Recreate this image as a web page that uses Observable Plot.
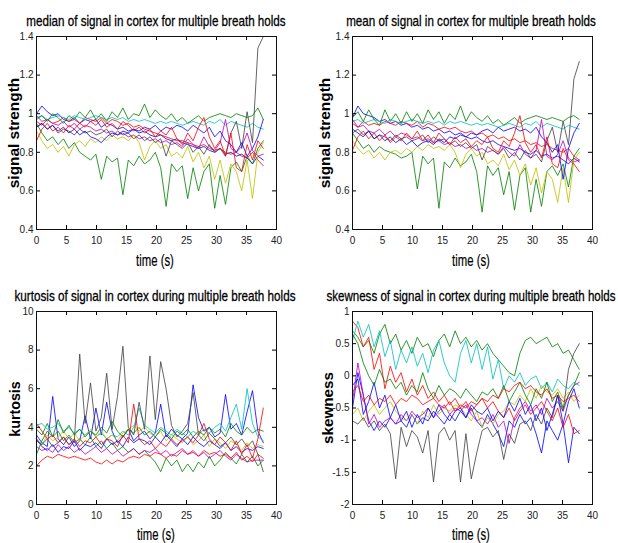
<!DOCTYPE html>
<html><head><meta charset="utf-8">
<script src="https://cdn.jsdelivr.net/npm/d3@7"></script>
<script src="https://cdn.jsdelivr.net/npm/@observablehq/plot@0.6"></script>
<style>
body{margin:0;background:#fff;}
#wrap{position:relative;width:618px;height:543px;overflow:hidden;font-family:"Liberation Sans",Arial,sans-serif;}
.panel{position:absolute;}
.title{position:absolute;font-size:15px;white-space:nowrap;color:#000;-webkit-text-stroke:0.3px #000;}
.xlab{position:absolute;font-size:17px;white-space:nowrap;color:#000;-webkit-text-stroke:0.2px #000;}
.ylab{position:absolute;font-weight:bold;font-size:14px;white-space:nowrap;color:#000;}
</style>
</head><body>
<div id="wrap"></div>
<script>
// ---------------- data ----------------
const time = [0,0.9,1.8,2.7,3.6,4.5,5.4,6.3,7.2,8.1,9,9.9,10.8,11.7,12.6,13.5,14.4,15.3,16.2,17.1,18,18.9,19.8,20.7,21.6,22.5,23.4,24.3,25.2,26.1,27,27.9,28.8,29.7,30.6,31.5,32.4,33.3,34.2,35.1,36,36.9,37.8];

const xTicks = [0,5,10,15,20,25,30,35,40];
const signalTicks = [0.4,0.6,0.8,1,1.2,1.4];
const kurtTicks = [0,2,4,6,8,10];
const skewTicks = [-2,-1.5,-1,-0.5,0,0.5,1];

const seriesNames = ["blue 1","green 1","red 1","cyan","magenta","yellow","black","blue 2","green 2","red 2"];

// median of signal
const medBlue1 = [1.00,1.04,1.01,0.99,1.00,0.97,0.96,0.98,0.95,0.97, 0.96,0.97,0.93,0.95,0.94,0.92,0.93,0.91,0.92,0.90, 0.91,0.89,0.88,0.89,0.87,0.86,0.87,0.85,0.84,0.83, 0.82,0.83,0.81,0.80,0.82,0.79,0.80,0.78,0.79,0.77, 0.74,0.78,0.76];
const medGreen1 = [0.95,0.90,0.86,0.88,0.84,0.87,0.82,0.85,0.80,0.78, 0.76,0.79,0.66,0.78,0.75,0.77,0.58,0.76,0.73,0.78, 0.74,0.76,0.80,0.72,0.52,0.74,0.70,0.73,0.56,0.72, 0.60,0.70,0.74,0.51,0.68,0.53,0.72,0.75,0.70,0.78, 0.74,0.82,0.86];
const medRed1 = [0.96,0.94,0.97,0.95,0.96,0.98,0.96,0.97,0.95,0.98, 0.97,0.96,0.98,0.95,0.97,0.96,0.94,0.95,0.93,0.94, 0.92,0.91,0.90,0.89,0.88,0.87,0.86,0.86,0.85,0.84, 0.83,0.84,0.82,0.81,0.82,0.80,0.79,0.80,0.78,0.77, 0.80,0.76,0.73];
const medCyan = [0.98,0.99,0.97,0.98,0.99,0.98,0.97,0.99,0.98,0.97, 0.98,0.99,0.98,0.97,0.98,0.97,0.98,0.96,0.97,0.96, 0.97,0.96,0.95,0.96,0.95,0.96,0.95,0.94,0.95,0.96, 0.95,0.94,0.96,0.95,0.97,0.94,0.96,0.95,0.94,0.93, 0.95,0.93,0.92];
const medMagenta = [0.99,0.96,0.97,0.95,0.94,0.96,0.93,0.95,0.92,0.94, 0.93,0.91,0.92,0.90,0.91,0.89,0.90,0.88,0.89,0.87, 0.88,0.86,0.87,0.85,0.86,0.84,0.85,0.83,0.87,0.84, 0.82,0.88,0.83,0.81,0.85,0.97,0.82,0.80,0.83,0.90, 0.81,0.78,0.79];
const medYellow = [0.91,0.86,0.82,0.84,0.80,0.83,0.78,0.84,0.86,0.83, 0.87,0.85,0.88,0.86,0.89,0.87,0.88,0.86,0.89,0.85, 0.76,0.83,0.86,0.82,0.84,0.78,0.80,0.77,0.83,0.75, 0.80,0.72,0.78,0.66,0.76,0.64,0.74,0.70,0.60,0.76, 0.56,0.80,0.85];
const medBlack = [0.93,0.95,0.92,0.94,0.90,0.92,0.91,0.89,0.92,0.90, 0.91,0.89,0.90,0.92,0.88,0.91,0.89,0.90,0.87,0.89, 0.86,0.88,0.85,0.87,0.78,0.86,0.84,0.82,0.85,0.80, 0.83,0.79,0.84,0.80,0.82,0.78,0.90,0.96,0.82,1.01, 0.85,1.34,1.40];
const medBlue2 = [0.93,0.95,0.92,0.94,0.91,0.93,0.90,0.92,0.89,0.91, 0.88,0.87,0.85,0.88,0.90,0.89,0.91,0.90,0.92,0.91, 0.93,0.92,0.94,0.91,0.93,0.92,0.94,0.93,0.91,0.94, 0.92,0.90,0.93,0.88,0.91,0.86,0.84,0.80,0.85,0.78, 0.82,0.88,0.97];
const medGreen2 = [0.97,0.99,0.96,1.00,0.98,0.95,0.99,0.97,1.01,0.98, 1.02,0.97,1.00,0.96,1.01,0.98,1.03,0.97,1.00,0.99, 1.05,0.98,1.02,0.99,0.97,1.00,0.96,0.98,0.95,0.97, 0.99,0.96,0.98,0.99,1.00,0.99,0.98,1.00,0.99,0.98, 0.99,1.03,0.97];
const medRed2 = [0.86,0.92,0.95,0.91,0.93,0.90,0.94,0.92,0.95,0.93, 0.96,0.94,0.97,0.93,0.95,0.92,0.96,0.94,0.91,0.93, 0.90,0.92,0.88,0.91,0.89,0.93,0.87,0.84,0.90,0.86, 0.93,0.98,0.88,0.82,0.86,0.78,0.90,0.72,0.70,0.84, 0.76,0.86,0.82];

// mean of signal
const meanBlue1 = [0.98,1.04,1.00,0.99,0.98,0.96,0.97,0.95,0.96,0.94, 0.95,0.93,0.94,0.92,0.93,0.91,0.92,0.90,0.91,0.89, 0.90,0.88,0.87,0.88,0.86,0.85,0.86,0.84,0.83,0.82, 0.81,0.82,0.80,0.79,0.81,0.78,0.79,0.77,0.78,0.76, 0.74,0.77,0.75];
const meanGreen1 = [0.90,0.86,0.82,0.84,0.80,0.83,0.81,0.80,0.79,0.77, 0.78,0.80,0.61,0.78,0.74,0.77,0.51,0.75,0.72,0.77, 0.73,0.75,0.79,0.70,0.49,0.73,0.68,0.72,0.58,0.70, 0.50,0.68,0.72,0.49,0.66,0.52,0.70,0.73,0.68,0.74, 0.62,0.78,0.82];
const meanRed1 = [0.95,0.93,0.96,0.94,0.95,0.94,0.96,0.95,0.94,0.96, 0.95,0.94,0.96,0.93,0.95,0.94,0.92,0.93,0.92,0.93, 0.91,0.90,0.91,0.89,0.90,0.88,0.89,0.87,0.88,0.86, 0.87,0.85,0.86,0.84,0.85,0.83,0.84,0.82,0.81,0.80, 0.82,0.78,0.76];
const meanCyan = [0.96,0.97,0.95,0.96,0.97,0.96,0.95,0.97,0.96,0.95, 0.96,0.97,0.96,0.95,0.96,0.95,0.96,0.94,0.96,0.95, 0.96,0.95,0.94,0.95,0.94,0.95,0.94,0.93,0.94,0.95, 0.94,0.93,0.95,0.94,0.96,0.93,0.95,0.94,0.93,0.92, 0.94,0.93,0.92];
const meanMagenta = [0.97,0.93,0.94,0.91,0.90,0.92,0.89,0.91,0.88,0.90, 0.89,0.87,0.88,0.86,0.87,0.85,0.86,0.84,0.85,0.83, 0.84,0.82,0.83,0.81,0.82,0.80,0.81,0.79,0.83,0.80, 0.78,0.84,0.79,0.77,0.81,0.97,0.78,0.76,0.79,0.86, 0.77,0.75,0.76];
const meanYellow = [0.86,0.82,0.79,0.81,0.77,0.80,0.76,0.80,0.81,0.79, 0.82,0.80,0.83,0.81,0.84,0.82,0.83,0.81,0.84,0.80, 0.72,0.79,0.82,0.78,0.80,0.74,0.76,0.73,0.79,0.71, 0.76,0.68,0.74,0.63,0.72,0.59,0.70,0.66,0.54,0.72, 0.54,0.76,0.80];
const meanBlack = [0.90,0.92,0.89,0.91,0.87,0.89,0.88,0.86,0.89,0.87, 0.88,0.86,0.87,0.89,0.85,0.88,0.86,0.87,0.84,0.86, 0.83,0.85,0.82,0.84,0.76,0.83,0.81,0.79,0.82,0.77, 0.80,0.76,0.81,0.77,0.79,0.75,0.86,0.93,0.80,0.96, 0.84,1.18,1.27];
const meanBlue2 = [0.92,0.90,0.88,0.91,0.87,0.89,0.86,0.88,0.85,0.87, 0.84,0.86,0.83,0.85,0.86,0.84,0.87,0.85,0.88,0.87, 0.89,0.88,0.90,0.89,0.91,0.92,0.90,0.93,0.91,0.92, 0.93,0.91,0.92,0.90,0.93,0.88,0.85,0.80,0.84,0.66, 0.82,0.90,0.95];
const meanGreen2 = [0.98,1.01,0.96,1.02,0.97,0.94,1.02,0.96,1.00,0.95, 1.01,0.96,1.00,0.95,1.02,0.97,1.01,0.95,1.00,0.97, 1.04,0.96,1.01,0.98,0.96,0.99,0.95,0.97,0.94,0.96, 0.98,0.95,0.97,0.98,0.99,0.98,0.97,0.98,0.97,0.96, 0.98,0.99,0.97];
const meanRed2 = [0.81,0.88,0.91,0.87,0.90,0.86,0.89,0.85,0.88,0.86, 0.90,0.87,0.91,0.86,0.89,0.85,0.90,0.87,0.84,0.88, 0.85,0.87,0.83,0.86,0.84,0.88,0.82,0.80,0.86,0.83, 0.90,0.99,0.85,0.80,0.84,0.77,0.88,0.74,0.72,0.82, 0.76,0.74,0.70];

// kurtosis
const kurtBlue1 = [3.6,3.2,3.0,5.6,3.4,3.1,3.5,3.0,3.3,4.6, 3.4,5.0,3.6,5.3,3.8,3.2,3.5,3.9,3.3,3.6, 3.8,3.4,3.7,5.2,3.5,3.9,3.6,3.4,3.7,6.2, 4.5,3.8,4.0,3.5,3.7,5.7,3.9,4.2,3.6,4.8, 5.9,3.8,3.2];
const kurtGreen1 = [3.9,3.6,4.2,3.5,3.8,3.3,3.6,3.2,3.4,3.1, 3.5,3.0,3.3,2.9,3.2,2.8,3.0,2.7,2.9,2.6, 2.8,2.5,2.2,1.7,2.4,2.0,2.3,1.7,2.1,1.7, 2.2,1.9,2.5,2.0,2.3,2.7,2.4,2.1,2.6,2.2, 2.5,2.0,2.3];
const kurtRed1 = [2.0,2.3,2.5,2.4,2.6,2.5,2.4,2.5,2.4,2.3, 2.4,2.2,2.1,2.3,2.1,2.3,2.2,2.4,2.5,2.4, 2.6,2.5,2.7,2.6,2.4,2.6,2.5,2.8,2.6,2.7, 2.5,2.8,2.6,2.7,2.5,2.6,2.4,2.7,2.3,2.5, 2.2,2.6,2.4];
const kurtCyan = [4.1,4.2,3.9,4.0,4.2,3.8,4.0,3.7,3.9,3.6, 3.8,3.5,3.7,3.4,3.6,3.5,3.8,3.6,4.0,5.0, 4.1,3.9,3.7,4.0,3.8,3.6,3.9,3.7,3.5,3.8, 3.6,3.9,3.7,4.0,4.2,3.8,4.5,5.2,3.9,6.0, 4.2,3.5,3.3];
const kurtMagenta = [3.0,2.8,2.9,2.7,3.1,2.8,3.0,2.7,2.9,2.6, 2.8,3.0,2.7,2.9,2.6,2.8,2.5,2.7,2.9,2.6, 2.8,2.7,2.9,2.6,2.8,2.5,2.7,2.9,2.6,2.8, 2.5,2.7,2.4,2.6,2.8,2.5,2.3,2.6,2.4,2.2, 2.3,2.3,2.3];
const kurtYellow = [3.4,3.1,3.6,3.3,3.5,3.8,3.4,3.7,3.3,3.6, 3.9,3.5,3.8,3.4,3.6,3.3,3.7,3.9,4.1,3.8, 4.0,3.7,3.5,3.8,3.3,3.6,3.4,3.2,3.5,3.1, 3.3,3.6,3.0,3.4,3.2,2.9,3.3,3.1,2.8,3.2, 2.9,3.1,3.0];
const kurtBlack = [3.3,3.1,3.4,3.0,3.2,3.5,3.1,3.3,7.8,4.2, 6.3,3.8,4.5,6.8,3.9,5.6,8.2,4.0,3.6,5.3, 3.9,7.7,4.4,7.4,6.0,4.1,3.5,3.8,4.2,5.8, 3.6,3.3,3.7,3.4,3.0,3.2,3.5,3.1,3.4,3.0, 3.3,2.6,1.7];
const kurtBlue2 = [3.4,3.0,2.8,3.1,2.7,3.0,2.9,3.3,2.8,3.1, 3.0,3.2,2.9,3.4,3.1,3.3,3.0,3.5,3.2,3.4, 3.3,3.1,3.5,3.2,3.6,3.3,3.0,3.4,3.1,3.5, 3.2,3.0,3.3,3.1,2.9,3.2,2.8,3.0,2.7,2.9, 2.8,3.0,2.9];
const kurtGreen2 = [2.6,3.3,3.8,3.5,4.4,3.7,4.1,3.6,3.9,3.5, 3.8,3.6,4.0,3.7,4.3,3.8,3.5,3.9,3.7,4.0, 3.6,3.8,3.5,3.9,3.7,3.4,3.8,3.6,3.9,3.5, 3.8,3.6,4.0,3.7,3.9,3.5,4.2,3.8,3.6,4.0, 3.7,3.9,3.8];
const kurtRed2 = [4.2,3.8,3.4,3.6,3.2,3.5,3.1,3.4,3.0,3.3, 3.2,3.5,3.1,3.4,3.3,3.0,3.6,3.2,5.2,3.4, 3.1,3.3,2.9,3.2,3.0,3.4,3.1,3.3,3.5,3.2, 3.6,4.2,3.4,3.1,3.5,3.2,2.8,3.3,2.6,3.1, 2.4,3.4,5.0];

// skewness
const skewBlue1 = [-0.50,0.05,-0.30,-0.70,-0.85,-0.70,-0.80,-0.65,-0.75,-0.70, -0.80,-0.60,-0.75,-0.65,-0.70,-0.55,-0.65,-0.75,-0.60,-0.70, -0.55,-0.65,-0.50,-0.70,-0.80,-0.60,-0.75,-0.90,-1.10,-0.70, -0.80,-0.60,-0.75,-0.65,-0.90,-1.20,-0.70,-0.85,-1.00,-0.75, -1.35,-0.80,-0.90];
const skewGreen1 = [0.70,0.60,0.45,0.55,0.35,0.65,0.80,0.50,0.65,0.40, 0.55,0.35,0.60,0.45,0.50,0.30,0.55,0.65,0.45,0.70, 0.50,0.60,0.45,0.55,0.40,0.50,0.35,0.25,0.15,0.05, 0.00,0.35,0.55,0.60,0.50,0.55,0.60,0.45,0.50,0.35, 0.40,0.25,0.10];
const skewRed1 = [0.85,0.75,0.45,0.60,0.10,0.35,-0.20,0.15,-0.10,0.05, -0.25,-0.05,-0.30,-0.15,-0.35,-0.25,-0.40,-0.30,-0.45,-0.35, -0.50,-0.40,-0.55,-0.45,-0.35,-0.50,-0.40,-0.55,-0.65,-0.50, -0.70,-0.55,-0.45,-0.60,-0.50,-0.40,-0.55,-0.70,-0.50,-0.80, -0.60,-0.90,-0.85];
const skewCyan = [0.55,0.85,0.60,0.80,0.45,0.70,0.30,0.55,0.10,0.40, 0.20,0.45,0.15,0.35,0.05,0.40,0.55,0.20,0.00,-0.10, 0.35,0.55,0.20,0.50,0.10,0.45,-0.05,0.25,-0.20,0.00, -0.10,0.05,-0.15,-0.05,0.00,-0.20,-0.10,-0.25,-0.05,-0.15, -0.20,-0.10,-0.15];
const skewMagenta = [-0.40,0.20,-0.30,-0.75,-0.60,-0.80,-0.70,-0.65,-0.75,-0.60, -0.70,-0.55,-0.65,-0.60,-0.50,-0.65,-0.55,-0.45,-0.60,-0.50, -0.55,-0.45,-0.60,-0.70,-0.65,-0.75,-0.60,-0.80,-0.70,-1.05, -0.65,-0.50,-0.40,-0.55,-0.45,-0.60,-0.35,-0.50,-0.40,-0.55, -0.30,-0.15,-0.10];
const skewYellow = [-0.60,-0.50,-0.70,-0.55,-0.45,-0.60,-0.50,-0.40,-0.55,-0.65, -0.70,-0.60,-0.75,-0.55,-0.65,-0.45,-0.60,-0.50,-0.55,-0.45, -0.50,-0.60,-0.70,-0.55,-0.80,-0.65,-0.75,-0.60,-0.55,-0.40, -0.45,-0.30,-0.40,-0.20,-0.35,-0.15,-0.25,-0.30,-0.20,-0.35, -0.25,-0.40,-0.30];
const skewBlack = [-0.70,-0.75,-0.65,-0.80,-0.70,-0.85,-0.75,-0.90,-1.60,-0.80, -1.10,-0.85,-0.95,-1.20,-0.85,-1.65,-0.90,-0.80,-1.00,-0.85, -1.65,-0.90,-1.60,-1.20,-0.85,-0.80,-0.95,-0.85,-1.30,-0.90, -1.05,-0.75,-0.70,-0.85,-0.60,-0.75,-0.50,-0.65,-0.30,-0.55, 0.10,0.35,0.50];
const skewBlue2 = [-0.15,-0.05,-0.60,-0.40,-0.10,-0.50,-0.30,-0.65,-0.45,-0.70, -0.55,-0.80,-0.60,-0.75,-0.50,-0.65,-0.45,-0.60,-0.70,-0.55, -0.50,-0.65,-0.45,-0.55,-0.60,-0.50,-0.70,-0.55,-0.65,-0.40, -0.55,-0.35,-0.60,-0.45,-0.70,-0.50,-0.85,-0.60,-0.30,-0.75, -0.40,-0.20,-0.50];
const skewGreen2 = [0.65,0.50,0.20,0.00,-0.15,0.10,-0.10,-0.05,-0.20,-0.10, -0.30,-0.15,-0.25,0.05,-0.20,-0.35,-0.15,-0.30,-0.20,-0.25, -0.35,-0.20,-0.30,-0.40,-0.25,-0.30,-0.20,-0.35,-0.15,-0.40, -0.25,-0.10,-0.30,-0.45,-0.20,-0.35,-0.10,-0.40,-0.25,-0.50, -0.30,-0.15,0.05];
const skewRed2 = [-0.25,-0.15,-0.40,-0.30,-0.45,-0.35,-0.40,-0.30,-0.45,-0.35, -0.40,-0.30,-0.35,-0.45,-0.40,-0.35,-0.45,-0.50,-0.40,-0.55, -0.45,-0.50,-0.40,-0.45,-0.35,-0.40,-0.30,-0.35,-0.20,-0.25, -0.15,-0.10,-0.20,-0.15,-0.25,-0.30,-0.20,-0.35,-0.30,-0.40, -0.35,-0.30,-0.40];

const titles = [
  "median of signal in cortex for multiple breath holds",
  "mean of signal in cortex for multiple breath holds",
  "kurtosis of signal in cortex during multiple breath holds",
  "skewness of signal in cortex during multiple breath holds"
];
const yLabels = ["signal strength","signal strength","kurtosis","skewness"];
const xLabel = "time (s)";

// ---------------- styling / layout ----------------
const colors = ["#0000ff","#008000","#ff0000","#00bfbf","#bf00bf","#bfbf00","#404040","#0000ff","#008000","#ff0000"];

const panels = [
  {series:[medBlue1,medGreen1,medRed1,medCyan,medMagenta,medYellow,medBlack,medBlue2,medGreen2,medRed2], domain:[0.4,1.4], ticks:signalTicks,
   left:0, top:0, w:309, h:272, m:[36,33,43,36], title:[156,20,259], ylab:[14,133,110], xlab:[155,261,38]},
  {series:[meanBlue1,meanGreen1,meanRed1,meanCyan,meanMagenta,meanYellow,meanBlack,meanBlue2,meanGreen2,meanRed2], domain:[0.4,1.4], ticks:signalTicks,
   left:309, top:0, w:309, h:272, m:[36,26,43,43], title:[471,20,250], ylab:[325,133,110], xlab:[471,261,38]},
  {series:[kurtBlue1,kurtGreen1,kurtRed1,kurtCyan,kurtMagenta,kurtYellow,kurtBlack,kurtBlue2,kurtGreen2,kurtRed2], domain:[0,10], ticks:kurtTicks,
   left:0, top:272, w:309, h:271, m:[39,33,39,36], title:[155,295,281], ylab:[15,409,55], xlab:[156,535,38]},
  {series:[skewBlue1,skewGreen1,skewRed1,skewCyan,skewMagenta,skewYellow,skewBlack,skewBlue2,skewGreen2,skewRed2], domain:[-2,1], ticks:skewTicks,
   left:309, top:272, w:309, h:271, m:[39,26,39,43], title:[471,295,289], ylab:[328,408,72], xlab:[471,535,38]}
];

const wrap = document.getElementById("wrap");

function placeText(cls, text, cx, cy, targetW, rotate) {
  const el = document.createElement("div");
  el.className = cls;
  el.textContent = text;
  el.style.left = cx + "px";
  el.style.top = cy + "px";
  wrap.appendChild(el);
  const natural = el.offsetWidth || 1;
  const s = targetW / natural;
  el.style.transform = "translate(-50%,-50%)" + (rotate ? " rotate(-90deg)" : "") + " scaleX(" + s + ")";
}

panels.forEach((p, pi) => {
  const [mt, mr, mb, ml] = p.m;
  const pw = p.w - ml - mr, ph = p.h - mt - mb;
  const marks = [];
  p.series.forEach((vals, si) => {
    const rows = time.map((t, i) => ({t, v: vals[i], s: seriesNames[si]}));
    marks.push(Plot.line(rows, {x: "t", y: "v", stroke: colors[si], strokeWidth: 0.9, strokeOpacity: 0.9}));
  });
  // inward ticks on all four sides
  marks.push(Plot.tickX(xTicks, {x: d => d, insetTop: ph - 4, stroke: "#000"}));
  marks.push(Plot.tickX(xTicks, {x: d => d, insetBottom: ph - 4, stroke: "#000"}));
  marks.push(Plot.tickY(p.ticks, {y: d => d, insetRight: pw - 4, stroke: "#000"}));
  marks.push(Plot.tickY(p.ticks, {y: d => d, insetLeft: pw - 4, stroke: "#000"}));
  marks.push(Plot.axisX(xTicks, {tickSize: 0, tickPadding: 7, tickFormat: d => String(d), label: null, fill: "#222"}));
  marks.push(Plot.axisY(p.ticks, {tickSize: 0, tickPadding: 3, tickFormat: d => String(d), label: null, fill: "#222"}));
  marks.push(Plot.frame({stroke: "#111"}));

  const chart = Plot.plot({
    width: p.w, height: p.h,
    marginTop: mt, marginRight: mr, marginBottom: mb, marginLeft: ml,
    x: {domain: [0, 40]},
    y: {domain: p.domain},
    style: {fontFamily: '"Liberation Sans",Arial,sans-serif', fontSize: "10px", background: "transparent", overflow: "visible"},
    marks
  });
  const div = document.createElement("div");
  div.className = "panel";
  div.style.left = p.left + "px";
  div.style.top = p.top + "px";
  div.appendChild(chart);
  wrap.appendChild(div);

  placeText("title", titles[pi], p.title[0], p.title[1], p.title[2], false);
  placeText("ylab", yLabels[pi], p.ylab[0], p.ylab[1], p.ylab[2], true);
  placeText("xlab", xLabel, p.xlab[0], p.xlab[1], p.xlab[2], false);
});
</script>
</body></html>
